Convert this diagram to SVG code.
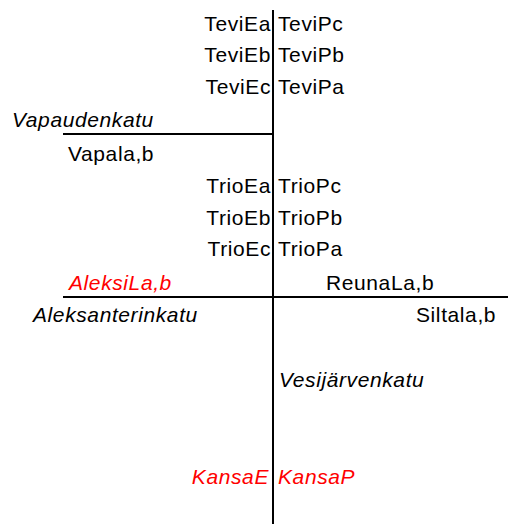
<svg xmlns="http://www.w3.org/2000/svg" width="510" height="525" viewBox="0 0 510 525">
<style>
text{font-family:"Liberation Sans",Arial,sans-serif;font-size:21px;fill:#000;letter-spacing:0.6px}
.e{text-anchor:end}
.i{font-style:italic}
.r{fill:#ff0000}
.ln{stroke:#000;stroke-width:2;fill:none}
</style>
<rect width="510" height="525" fill="#fff"/>
<g id="connectors">
<line class="ln" x1="273" y1="10" x2="273" y2="524"/>
<line class="ln" x1="63" y1="134" x2="273" y2="134"/>
<line class="ln" x1="63" y1="297" x2="508" y2="297"/>
</g>
<g id="tevi">
<text class="e" x="271" y="31">TeviEa</text>
<text x="278" y="31">TeviPc</text>
<text class="e" x="271" y="62">TeviEb</text>
<text x="278" y="62">TeviPb</text>
<text class="e" x="271" y="94">TeviEc</text>
<text x="278" y="94">TeviPa</text>
</g>
<g id="vapaudenkatu"><text class="i" x="12" y="127">Vapaudenkatu</text></g>
<g id="vapala"><text x="68" y="161">Vapala,b</text></g>
<g id="trio">
<text class="e" x="271" y="193">TrioEa</text>
<text x="278" y="193">TrioPc</text>
<text class="e" x="271" y="225">TrioEb</text>
<text x="278" y="225">TrioPb</text>
<text class="e" x="271" y="256">TrioEc</text>
<text x="278" y="256">TrioPa</text>
</g>
<g id="aleksila"><text class="i r" x="69" y="290">AleksiLa,b</text></g>
<g id="reunala"><text x="326" y="290">ReunaLa,b</text></g>
<g id="aleksanterinkatu"><text class="i" x="33" y="322">Aleksanterinkatu</text></g>
<g id="siltala"><text x="416" y="322">Siltala,b</text></g>
<g id="vesijarvenkatu"><text class="i" x="279" y="387">Vesijärvenkatu</text></g>
<g id="kansa">
<text class="e i r" x="269" y="484">KansaE</text>
<text class="i r" x="278" y="484">KansaP</text>
</g>
</svg>
